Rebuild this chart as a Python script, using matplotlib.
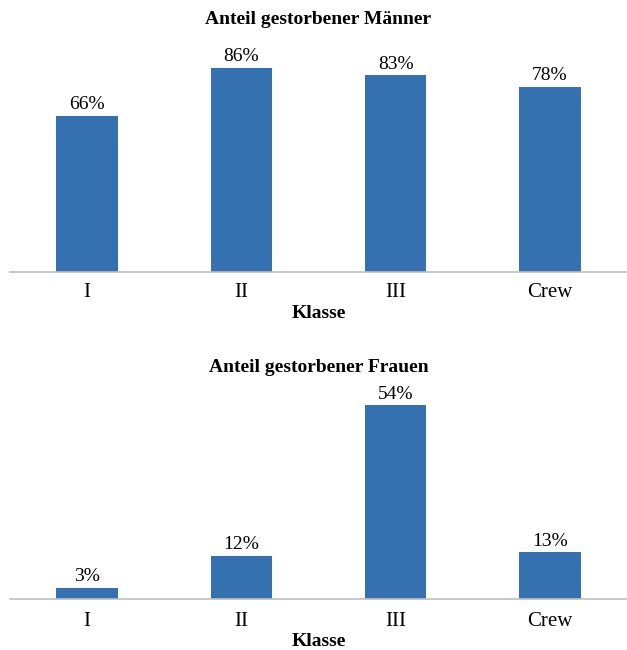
import matplotlib.pyplot as plt

plt.rcParams['font.family'] = ['Liberation Serif', 'DejaVu Serif']

klassen = ['I', 'II', 'III', 'Crew']
maenner = [66, 86, 83, 78]
frauen = [3, 12, 54, 13]

BAR_COLOR = '#3571b1'
AXIS_COLOR = '#bfbfbf'
FIG_W, FIG_H = 627, 650


def draw_panel(ax, values, title, ymax, title_gap, tick_pad, label_pad):
    x = range(len(klassen))
    bars = ax.bar(x, values, width=0.4, color=BAR_COLOR, zorder=2)
    for rect, v in zip(bars, values):
        ax.annotate(f'{v}%', (rect.get_x() + rect.get_width() / 2, rect.get_height()),
                    xytext=(0, 2), textcoords='offset points',
                    ha='center', va='bottom', fontsize=14)
    ax.set_xlim(-0.5, len(klassen) - 0.5)
    ax.set_ylim(0, ymax)
    ax.set_xticks(list(x))
    ax.set_xticklabels(klassen, fontsize=15)
    ax.tick_params(axis='x', length=0, pad=tick_pad)
    ax.set_yticks([])
    for side in ('left', 'right', 'top'):
        ax.spines[side].set_visible(False)
    ax.spines['bottom'].set_color(AXIS_COLOR)
    ax.spines['bottom'].set_linewidth(1.2)
    ax.set_xlabel('Klasse', fontsize=14, fontweight='bold', labelpad=label_pad)
    # title centre sits title_gap pixels above the axes top
    height_px = ax.get_position().height * FIG_H
    ax.set_title(title, fontsize=14, fontweight='bold', pad=0,
                 y=1.0 + title_gap / height_px, va='center')


fig = plt.figure(figsize=(FIG_W / 100, FIG_H / 100), dpi=100)
ax1 = fig.add_axes([0.016, 0.5815, 0.984, 0.3646])
ax2 = fig.add_axes([0.016, 0.0785, 0.984, 0.3308])

draw_panel(ax1, maenner, 'Anteil gestorbener Männer', 100, 16, 8, 2)
draw_panel(ax2, frauen, 'Anteil gestorbener Frauen', 60, 16, 9.5, 1.5)

fig.savefig('out.png', dpi=100)
